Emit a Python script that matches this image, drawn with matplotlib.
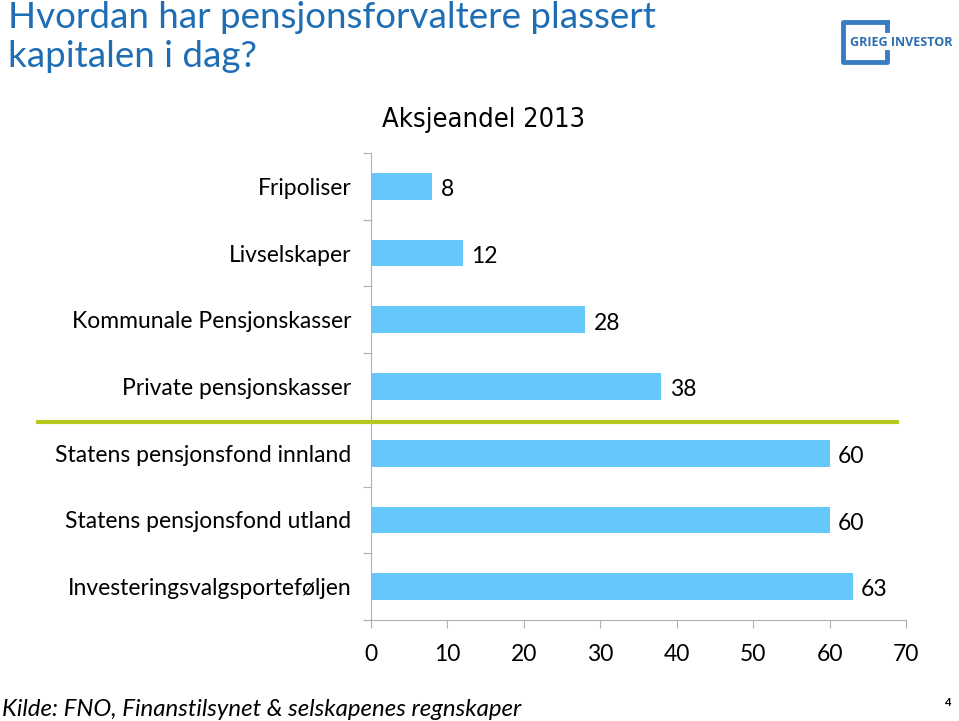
import matplotlib
matplotlib.use("Agg")
import matplotlib.pyplot as plt
from matplotlib.lines import Line2D

categories = ["Fripoliser", "Livselskaper", "Kommunale Pensjonskasser",
              "Private pensjonskasser", "Statens pensjonsfond innland",
              "Statens pensjonsfond utland", "Investeringsvalgsporteføljen"]
values = [8, 12, 28, 38, 60, 60, 63]
xticks = [0, 10, 20, 30, 40, 50, 60, 70]

plt.rcParams['font.family'] = ['Lato', 'DejaVu Sans']

fig = plt.figure(figsize=(9.59, 7.21), dpi=100)
ax = fig.add_axes([371/959, 101/721, 535/959, 467/721])

ypos = list(range(len(categories)))[::-1]
ax.barh(ypos, values, height=0.4, color='#66c7fb')
for y, v in zip(ypos, values):
    ax.text(v + 1.1, y - 0.05, str(v), va='center', ha='left', fontsize=16.5)

ax.set_xlim(0, 70)
ax.set_ylim(-0.5, len(categories) - 0.5)
ax.set_xticks(xticks)
ax.set_xticklabels([str(t) for t in xticks], fontsize=16.5)
ax.set_yticks([y - 0.5 for y in range(len(categories) + 1)], minor=False)
ax.set_yticklabels([])
ax.set_yticks(ypos, minor=True)
ax.set_yticklabels(categories, minor=True, fontsize=16.5)
ax.tick_params(axis='y', which='minor', length=0, pad=14)
ax.tick_params(axis='y', which='major', length=6, color='#b0b0b0')
ax.tick_params(axis='x', length=6, color='#b0b0b0', pad=11)
for s in ['top', 'right']:
    ax.spines[s].set_visible(False)
ax.spines['left'].set_color('#b0b0b0')
ax.spines['bottom'].set_color('#b0b0b0')

fig.text(484/959, 1 - 120/721, "Aksjeandel 2013", fontsize=19.5, ha='center', va='center',
         family='DejaVu Sans', fontstretch='condensed')

# olive separator line
fig.add_artist(Line2D([38/959, 897/959], [1 - 422/721, 1 - 422/721], color='#b5c91e', lw=3))

# heading
fig.text(8/959, 1 - 1/721, "Hvordan har pensjonsforvaltere plassert\nkapitalen i dag?",
         ha='left', va='top', fontsize=26.5, color='#1f6eb4', linespacing=1.22)

# logo
logo_c = '#3a7cc4'
fig.add_artist(Line2D([887/959, 843/959, 843/959, 887/959, 887/959],
                      [1 - 22/721, 1 - 22/721, 1 - 62/721, 1 - 62/721, 1 - 52/721],
                      color=logo_c, lw=3.5))
fig.add_artist(Line2D([887/959, 887/959], [1 - 22/721, 1 - 30/721], color=logo_c, lw=3.5))
fig.text(850/959, 1 - 42/721, "GRIEG INVESTOR", fontsize=9, weight='bold', color='#2a6db0',
         ha='left', va='center', family=['Open Sans', 'DejaVu Sans'])

# footer
fig.text(2/959, 1 - 709/721, "Kilde: FNO, Finanstilsynet & selskapenes regnskaper",
         ha='left', va='center', fontsize=17.3, style='italic')
fig.text(948/959, 1 - 703/721, "4", ha='center', va='center', fontsize=8, weight='bold')

fig.savefig("out.png", dpi=100)
